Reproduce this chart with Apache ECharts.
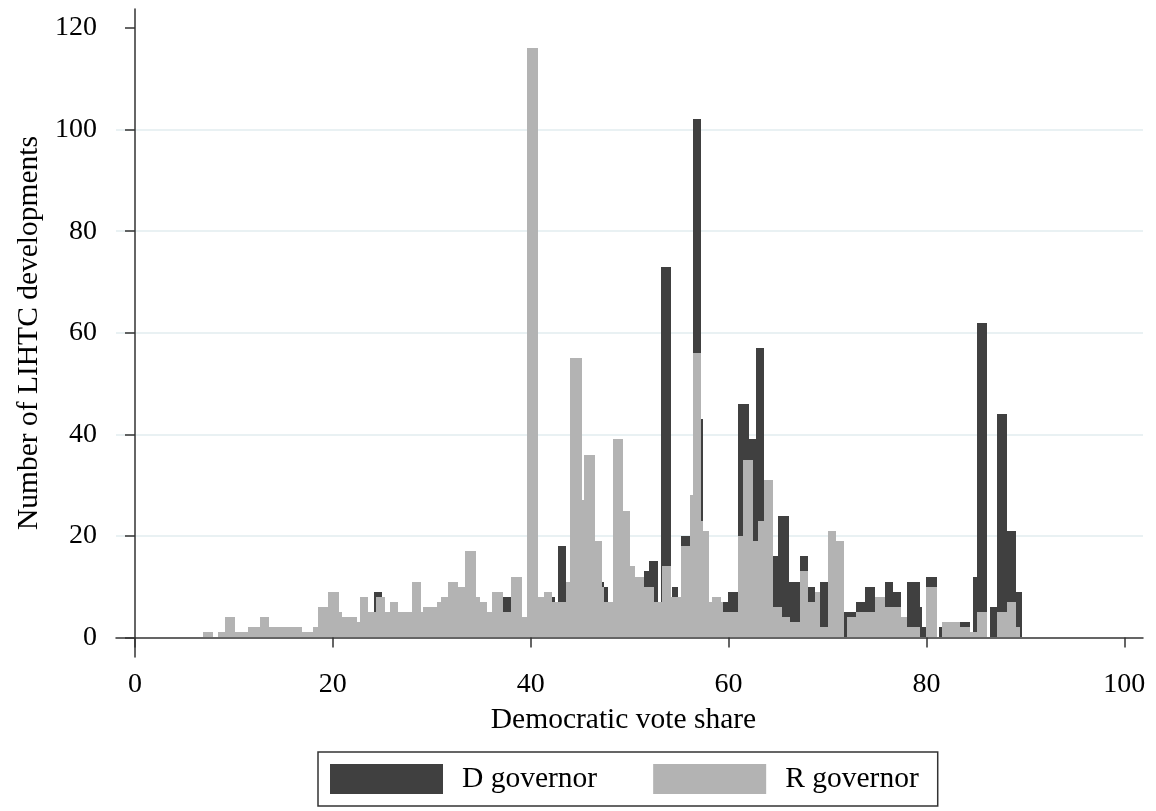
<!DOCTYPE html>
<html><head><meta charset="utf-8">
<script src="https://cdn.jsdelivr.net/npm/echarts@6/dist/echarts.min.js"></script>
<style>html,body{margin:0;padding:0;background:#fff}#c{width:1156px;height:811px}</style>
</head><body><div id="c"></div>
<script>
// Tick labels
const xTicks = [0, 20, 40, 60, 80, 100];
const yTicks = [0, 20, 40, 60, 80, 100, 120];
const seriesNames = ['D governor', 'R governor'];

// D governor: bin edges (Democratic vote share) and counts
const dEdges = [24.2, 25.0, 37.15, 38.0, 42.2, 42.45, 42.75, 43.6, 47.2, 47.4, 47.8, 51.5, 52.0, 52.9, 53.2, 54.2,
  54.25, 54.9, 55.2, 56.1, 56.4, 57.2, 57.4, 59.45, 59.95, 61.0, 62.1, 62.8, 63.6, 64.5, 65.0, 66.1, 67.2, 68.05,
  68.7, 69.2, 70.1, 71.7, 72.9, 73.75, 74.8, 75.8, 76.65, 77.4, 78.0, 79.3, 79.6, 79.95, 81.05, 81.3, 81.55, 82.2,
  83.4, 84.4, 84.75, 85.08, 86.16, 86.43, 87.1, 88.1, 89.05, 89.7];
const dCounts = [9, 0, 8, 0, 8, 0, 18, 0, 11, 10, 0, 13, 15, 0, 73, 0, 10, 0, 20, 0, 102, 43, 0, 7, 9, 46, 39, 57, 0,
  16, 24, 11, 16, 10, 0, 11, 0, 5, 7, 10, 0, 11, 9, 0, 11, 6, 2, 12, 0, 2, 3, 0, 3, 0, 12, 62, 0, 6, 44, 21, 9];

// R governor: bin edges and counts
const rEdges = [6.85, 7.9, 8.4, 9.1, 10.1, 11.45, 12.6, 13.5, 16.85, 17.95, 18.5, 19.5, 20.6, 20.9, 22.4, 22.7, 23.6,
  24.4, 25.3, 25.8, 26.6, 28.0, 28.9, 29.1, 30.5, 30.9, 31.6, 32.7, 33.35, 34.45, 34.9, 35.55, 36.05, 37.15, 38.0,
  39.1, 39.6, 40.7, 41.35, 42.2, 43.6, 44.0, 45.15, 45.4, 46.5, 47.2, 47.4, 48.3, 49.35, 50.0, 50.5, 51.5, 52.5, 53.3,
  54.2, 55.2, 56.1, 56.4, 57.2, 57.4, 58.05, 58.3, 59.2, 59.45, 61.0, 61.5, 62.5, 63.0, 63.6, 64.5, 65.4, 66.2, 67.2,
  68.05, 68.7, 69.2, 70.1, 70.9, 71.7, 72.0, 72.9, 73.8, 74.8, 75.8, 77.4, 78.0, 79.3, 79.95, 81.05, 81.55, 83.4,
  84.4, 85.08, 86.16, 87.1, 88.1, 89.05, 89.5];
const rCounts = [1, 0, 1, 4, 1, 2, 4, 2, 1, 2, 6, 9, 5, 4, 3, 8, 5, 8, 5, 7, 5, 11, 5, 6, 7, 8, 11, 10, 17, 8, 7, 5, 9,
  5, 12, 4, 116, 8, 9, 7, 11, 55, 27, 36, 19, 10, 7, 39, 25, 14, 12, 10, 7, 14, 8, 18, 28, 56, 23, 21, 7, 8, 7, 5,
  20, 35, 19, 23, 31, 6, 4, 3, 13, 7, 9, 2, 21, 19, 0, 4, 5, 5, 8, 6, 4, 2, 0, 10, 0, 3, 2, 1, 5, 0, 5, 7, 2];

function bins(edges, counts) {
  const out = [];
  for (let i = 0; i < counts.length; i++) {
    if (counts[i] > 0) out.push([edges[i], edges[i + 1], counts[i]]);
  }
  return out;
}
function renderBin(params, api) {
  const a = api.coord([api.value(0), api.value(2)]);
  const b = api.coord([api.value(1), 0]);
  const x0 = Math.round(a[0]), x1 = Math.round(b[0]);
  const y0 = Math.round(a[1]), y1 = Math.round(b[1]);
  return { type: 'rect', shape: { x: x0, y: y0, width: x1 - x0, height: y1 - y0 },
    style: { fill: api.visual('color') } };
}

const FONT = 'Liberation Serif';
const axisCol = '#333333';
const chart = echarts.init(document.getElementById('c'), null, { renderer: 'canvas' });
chart.setOption({
  animation: false,
  backgroundColor: '#ffffff',
  grid: { left: 116, right: 13, top: 9, bottom: 154 },
  xAxis: {
    type: 'value', min: -1.92, max: 101.89,
    name: 'Democratic vote share', nameLocation: 'middle', nameGap: 48,
    nameTextStyle: { fontFamily: FONT, fontSize: 29.5, color: '#000', padding: [0, 12, 0, 0] },
    axisLine: { show: true, lineStyle: { color: axisCol, width: 1.5 } },
    axisTick: { show: true, length: 10, customValues: xTicks, lineStyle: { color: axisCol, width: 1.5 } },
    axisLabel: { customValues: xTicks, fontFamily: FONT, fontSize: 28, color: '#000', margin: 14 },
    splitLine: { show: false }
  },
  yAxis: {
    type: 'value', min: -3.84, max: 123.75, minInterval: 20, maxInterval: 20, splitNumber: 6,
    name: 'Number of LIHTC developments', nameLocation: 'middle', nameGap: 72, nameRotate: 90,
    nameTextStyle: { fontFamily: FONT, fontSize: 29.5, color: '#000' },
    axisLine: { show: true, lineStyle: { color: axisCol, width: 1.5 } },
    axisTick: { show: true, length: 10, customValues: yTicks, lineStyle: { color: axisCol, width: 1.5 } },
    axisLabel: { customValues: yTicks, fontFamily: FONT, fontSize: 28, color: '#000', margin: 19 },
    splitLine: { show: true, showMinLine: false, showMaxLine: false, lineStyle: { color: '#e2ecef', width: 1.5 } }
  },
  legend: {
    left: 318, top: 752, orient: 'horizontal',
    itemWidth: 113, itemHeight: 30, itemGap: 56,
    padding: [12, 19, 12, 12],
    borderColor: '#333', borderWidth: 1.5,
    textStyle: { fontFamily: FONT, fontSize: 29.5, color: '#000', padding: [0, 0, 0, 14] },
    data: [{ name: seriesNames[0], icon: 'rect' }, { name: seriesNames[1], icon: 'rect' }]
  },
  series: [
    { name: seriesNames[0], type: 'custom', renderItem: renderBin, clip: true,
      itemStyle: { color: '#404040' }, encode: { x: [0, 1], y: 2 }, data: bins(dEdges, dCounts) },
    { name: seriesNames[1], type: 'custom', renderItem: renderBin, clip: true,
      itemStyle: { color: '#b3b3b3' }, encode: { x: [0, 1], y: 2 }, data: bins(rEdges, rCounts) }
  ]
});
</script></body></html>
